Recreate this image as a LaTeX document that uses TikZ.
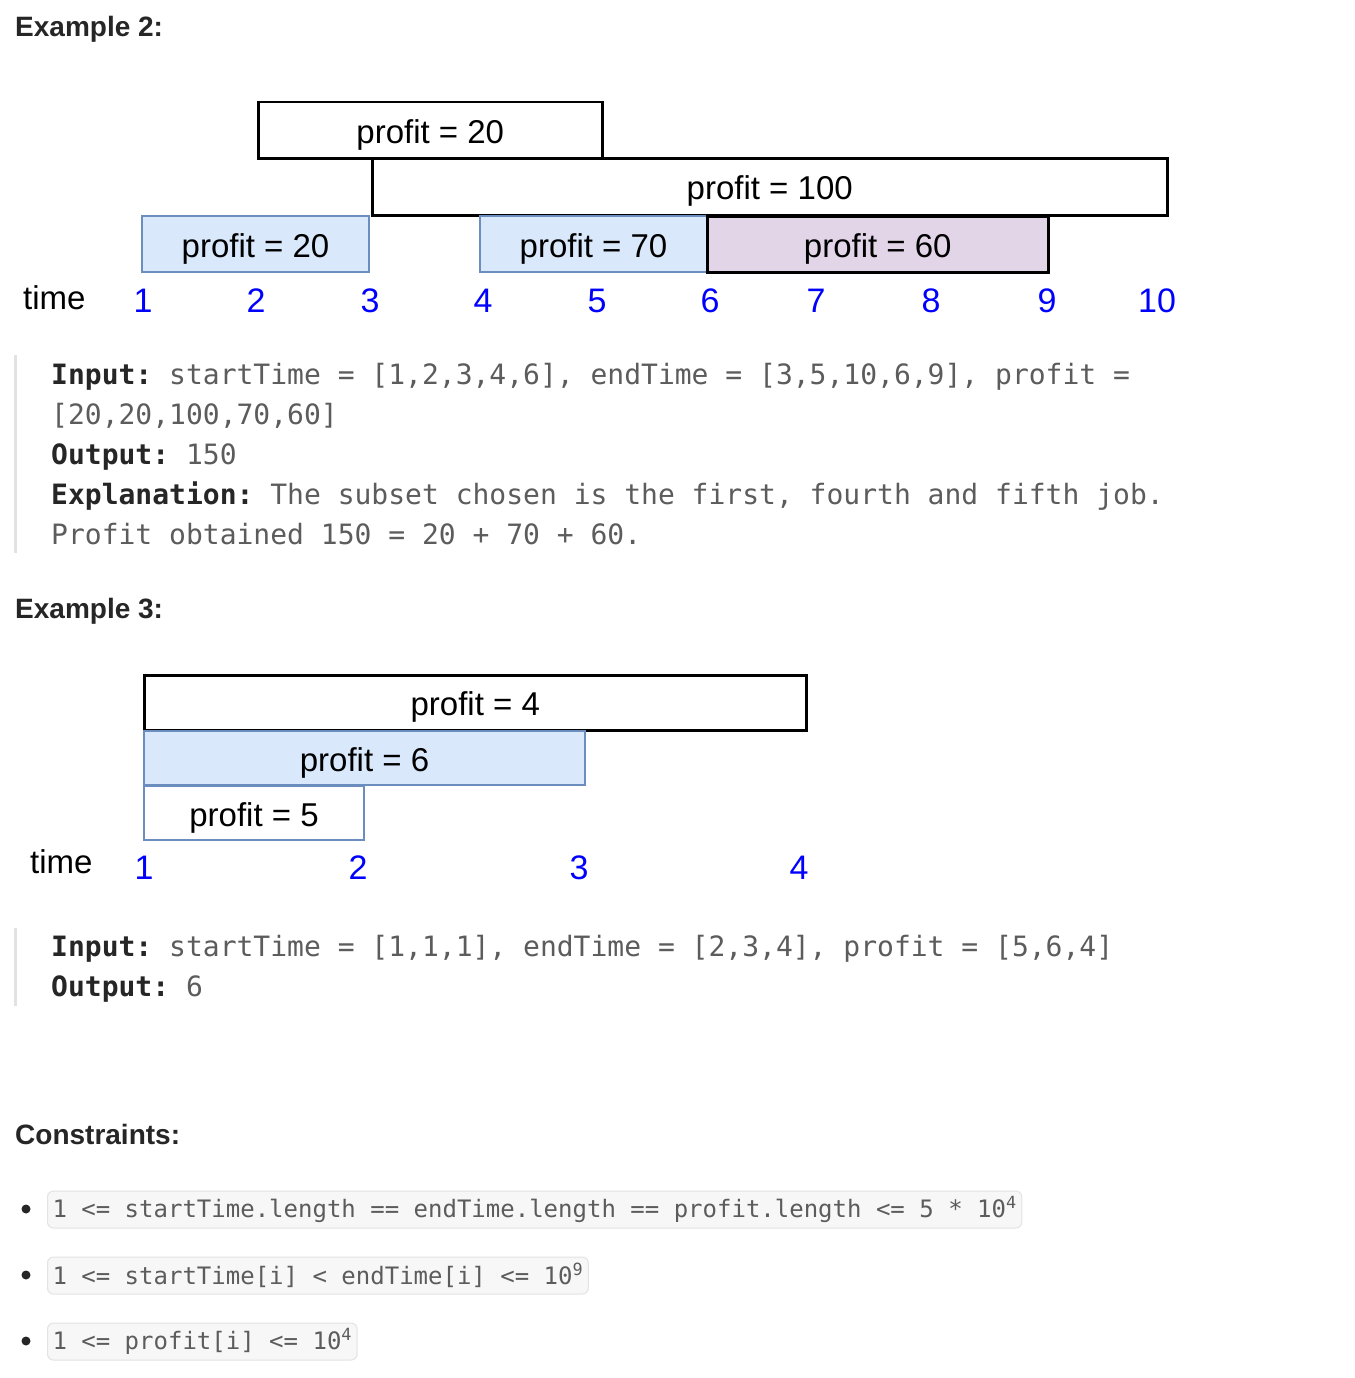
\documentclass[tikz,border=0pt]{standalone}
\usepackage{fontspec}
\setmainfont{Liberation Sans}
\setmonofont{DejaVu Sans Mono}

\definecolor{jobblue}{HTML}{DAE8FC}
\definecolor{jobblueline}{HTML}{6C8EBF}
\definecolor{jobpurple}{HTML}{E1D5E7}
\definecolor{codegray}{HTML}{5C5C5C}
\definecolor{headblack}{HTML}{262626}
\definecolor{quotebar}{HTML}{E2E2E2}
\definecolor{codebg}{HTML}{F7F7F8}
\definecolor{codeline}{HTML}{E3E3E3}

\tikzset{
  job/.style={draw=black,line width=2.5pt,fill=white,anchor=north west,inner sep=0pt,
    text height=26pt,text depth=0pt,font=\fontsize{33}{40}\selectfont},
  bluejob/.style={job,draw=jobblueline,line width=2pt,fill=jobblue},
  tick/.style={anchor=base,text=blue,font=\fontsize{34}{40}\selectfont},
  timelabel/.style={anchor=base west,inner xsep=0pt,font=\fontsize{33}{40}\selectfont},
  heading/.style={anchor=base west,inner xsep=0pt,text=headblack,font=\bfseries\fontsize{28}{32}\selectfont},
  codeline/.style={anchor=base west,inner xsep=0pt,text=codegray,font=\ttfamily\fontsize{28}{32}\selectfont},
  codechip/.style={anchor=west,draw=codeline,fill=codebg,rounded corners=6pt,line width=1pt,
    text=codegray,minimum height=37pt,inner xsep=5pt,inner ysep=0pt,
    font=\ttfamily\fontsize{24}{28}\selectfont},
}
\newcommand{\kw}[1]{\textbf{\color{headblack}#1}}

\begin{document}
\begin{tikzpicture}[x=1pt,y=-1pt]
  \useasboundingbox[fill=white] (0,0) rectangle (1354,1378);

  % example 2
  \node[heading] (head2) at (15,37) {Example 2:};

  \node[job,minimum width=344pt,minimum height=56pt] (top20) at (257,101) {profit = 20};
  \node[job,minimum width=795pt,minimum height=57pt] (job100) at (371,157) {profit = 100};
  \node[bluejob,minimum width=227pt,minimum height=56pt] (low20) at (141,215) {profit = 20};
  \node[bluejob,minimum width=227pt,minimum height=56pt] (job70) at (479,215) {profit = 70};
  \node[job,fill=jobpurple,minimum width=341pt,minimum height=56pt] (job60) at (706,215) {profit = 60};

  \node[timelabel] (time2) at (23,309) {time};
  \foreach \x/\t in {143/1,256/2,370/3,483/4,597/5,710/6,816/7,931/8,1047/9,1157/10}
    \node[tick] (a\t) at (\x,312) {\t};

  \fill[quotebar] (14,355) rectangle (17,553);
  \node[codeline] (in2) at (51,384) {\kw{Input:} startTime = [1,2,3,4,6], endTime = [3,5,10,6,9], profit =};
  \node[codeline] (in2b) at (51,424) {[20,20,100,70,60]};
  \node[codeline] (out2) at (51,464) {\kw{Output:} 150};
  \node[codeline] (ex2) at (51,504) {\kw{Explanation:} The subset chosen is the first, fourth and fifth job.};
  \node[codeline] (ex2b) at (51,544) {Profit obtained 150 = 20 + 70 + 60.};

  % example 3
  \node[heading] (head3) at (15,618) {Example 3:};

  \node[job,minimum width=662pt,minimum height=55pt] (job4) at (143,674) {profit = 4};
  \node[bluejob,minimum width=441pt,minimum height=54pt] (job6) at (143,730) {profit = 6};
  \node[bluejob,fill=white,minimum width=220pt,minimum height=54pt] (job5) at (143,785) {profit = 5};

  \node[timelabel] (time3) at (30,873) {time};
  \foreach \x/\t in {144/1,358/2,579/3,799/4}
    \node[tick] (b\t) at (\x,879) {\t};

  \fill[quotebar] (14,928) rectangle (17,1006);
  \node[codeline] (in3) at (51,956) {\kw{Input:} startTime = [1,1,1], endTime = [2,3,4], profit = [5,6,4]};
  \node[codeline] (out3) at (51,996) {\kw{Output:} 6};

  % constraints
  \node[heading] (headc) at (15,1144) {Constraints:};
  \foreach \y in {1209,1275,1341}
    \fill[headblack] (26,\y) circle (4.5);
  \node[codechip] (c1) at (47,1209.5) {1 <= startTime.length == endTime.length == profit.length <= 5 * 10\textsuperscript{4}};
  \node[codechip] (c2) at (47,1275.5) {1 <= startTime[i] < endTime[i] <= 10\textsuperscript{9}};
  \node[codechip] (c3) at (47,1341.5) {1 <= profit[i] <= 10\textsuperscript{4}};
\end{tikzpicture}
\end{document}
